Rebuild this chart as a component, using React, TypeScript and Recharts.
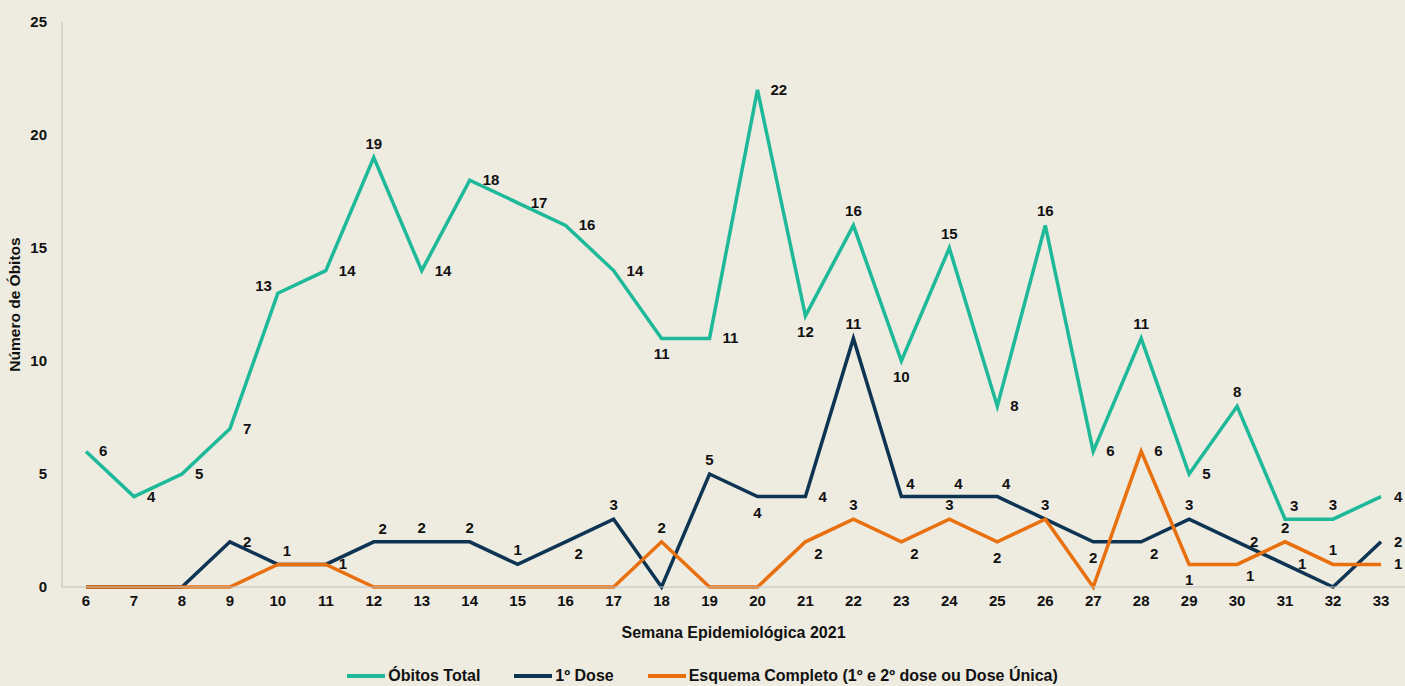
import { LineChart, Line, XAxis, YAxis, Legend, LabelList } from "recharts";

const COLORS = {
  total: "#1DB999",
  dose1: "#0D3452",
  full: "#E8700F",
  axis: "#BFBFBF",
  bg: "#EEEBE0",
  text: "#111111",
};

// Semanas epidemiológicas
const weeks = [6, 7, 8, 9, 10, 11, 12, 13, 14, 15, 16, 17, 18, 19, 20, 21, 22, 23, 24, 25, 26, 27, 28, 29, 30, 31, 32, 33];

const obitosTotal = [6, 4, 5, 7, 13, 14, 19, 14, 18, 17, 16, 14, 11, 11, 22, 12, 16, 10, 15, 8, 16, 6, 11, 5, 8, 3, 3, 4];
const primeiraDose = [0, 0, 0, 2, 1, 1, 2, 2, 2, 1, 2, 3, 0, 5, 4, 4, 11, 4, 4, 4, 3, 2, 2, 3, 2, 1, 0, 2];
const esquemaCompleto = [0, 0, 0, 0, 1, 1, 0, 0, 0, 0, 0, 0, 2, 0, 0, 2, 3, 2, 3, 2, 3, 0, 6, 1, 1, 2, 1, 1];

const yTicks = [0, 5, 10, 15, 20, 25];

// where each data label sits (r = right, t = top, e = top-right, b = below, s = below-right, l = left, n = none)
const totalLabelPos = "r r r r l r t r r r r r b r r b t b t r t r t r t e t r".split(" ");
const dose1LabelPos = "n n n r e n e t t t s t n t b r t e e e t b s t r r n r".split(" ");
const fullLabelPos = "n n n n n r n n n n n n t n n s t s t b n n r b s t t r".split(" ");

const data = weeks.map((w, i) => ({
  week: w,
  total: obitosTotal[i],
  dose1: primeiraDose[i],
  full: esquemaCompleto[i],
}));

const OFFSETS: Record<string, [number, number, "start" | "middle" | "end"]> = {
  r: [13, 5, "start"],
  l: [-6, -2, "end"],
  t: [0, -9, "middle"],
  e: [9, -8, "middle"],
  b: [0, 21, "middle"],
  s: [13, 17, "middle"],
};

const makeLabel = (positions: string[]) => (props: any) => {
  const { x, y, value, index } = props;
  const pos = positions[index];
  if (!pos || pos === "n" || !OFFSETS[pos]) return null;
  const [dx, dy, anchor] = OFFSETS[pos];
  return (
    <text
      x={x + dx}
      y={y + dy}
      textAnchor={anchor}
      fontSize={15}
      fontWeight="bold"
      fill={COLORS.text}
    >
      {value}
    </text>
  );
};

const legendItems = [
  { name: "Óbitos Total", color: COLORS.total },
  { name: "1º Dose", color: COLORS.dose1 },
  { name: "Esquema Completo (1º e 2º dose ou Dose Única)", color: COLORS.full },
];

const renderLegend = () => (
  <div style={{ display: "flex", justifyContent: "center", alignItems: "center", gap: 34, height: 20 }}>
    {legendItems.map((item) => (
      <div key={item.name} style={{ display: "flex", alignItems: "center" }}>
        <div style={{ width: 38, height: 4, background: item.color, marginRight: 3 }} />
        <span style={{ fontSize: 16, fontWeight: "bold", color: COLORS.text }}>{item.name}</span>
      </div>
    ))}
  </div>
);

export default function App() {
  return (
    <div
      style={{
        position: "absolute",
        left: 0,
        top: 0,
        width: 1405,
        height: 686,
        background: COLORS.bg,
        fontFamily: "'Liberation Sans', Arial, sans-serif",
      }}
    >
      <LineChart width={1405} height={686} data={data} margin={{ top: 22, right: 0, left: 0, bottom: 0 }}>
        <XAxis
          dataKey="week"
          stroke={COLORS.axis}
          tickLine={false}
          height={79}
          padding={{ left: 24, right: 24 }}
          interval={0}
          tick={{ fill: COLORS.text, fontSize: 15, fontWeight: "bold" }}
          label={{
            value: "Semana Epidemiológica 2021",
            position: "insideBottom",
            offset: 28,
            fill: COLORS.text,
            fontSize: 16,
            fontWeight: "bold",
          }}
        />
        <YAxis
          domain={[0, 25]}
          ticks={yTicks}
          width={62}
          stroke={COLORS.axis}
          tickLine={false}
          tickMargin={9}
          tick={{ fill: COLORS.text, fontSize: 15, fontWeight: "bold" }}
          label={{
            value: "Número de Óbitos",
            angle: -90,
            position: "insideLeft",
            offset: 14,
            fill: COLORS.text,
            fontSize: 15.5,
            fontWeight: "bold",
            style: { textAnchor: "middle" },
          }}
        />
        <Legend verticalAlign="bottom" height={20} content={renderLegend} />
        <Line type="linear" dataKey="total" name="Óbitos Total" stroke={COLORS.total} strokeWidth={3.5} dot={false} isAnimationActive={false}>
          <LabelList dataKey="total" content={makeLabel(totalLabelPos)} />
        </Line>
        <Line type="linear" dataKey="dose1" name="1º Dose" stroke={COLORS.dose1} strokeWidth={3.5} dot={false} isAnimationActive={false}>
          <LabelList dataKey="dose1" content={makeLabel(dose1LabelPos)} />
        </Line>
        <Line type="linear" dataKey="full" name="Esquema Completo (1º e 2º dose ou Dose Única)" stroke={COLORS.full} strokeWidth={3.5} dot={false} isAnimationActive={false}>
          <LabelList dataKey="full" content={makeLabel(fullLabelPos)} />
        </Line>
      </LineChart>
    </div>
  );
}
